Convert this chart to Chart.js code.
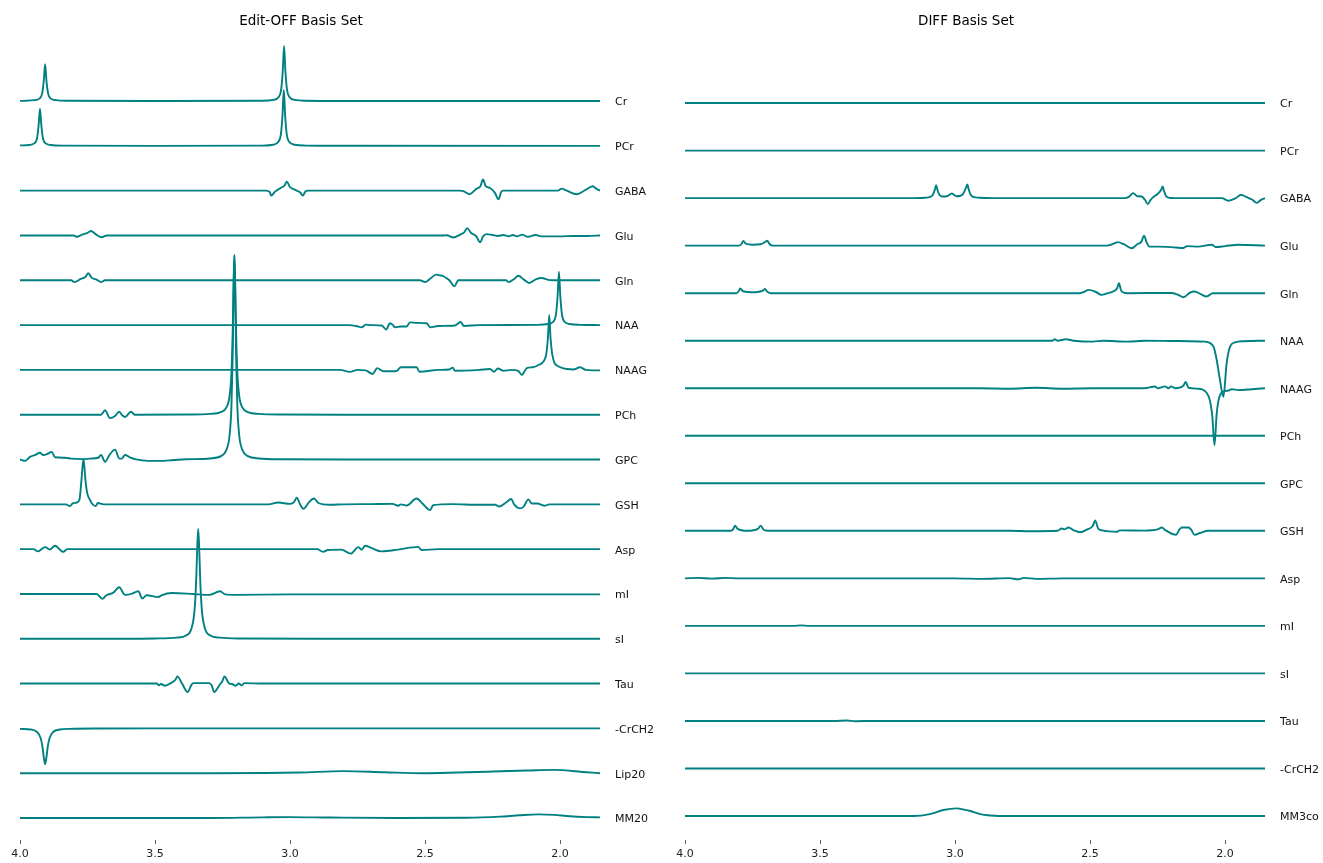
<!DOCTYPE html>
<html>
<head>
<meta charset="utf-8">
<script src="https://cdn.jsdelivr.net/npm/chart.js@4"></script>
<style>
  body { margin: 0; background: #fff; }
  canvas { position: absolute; top: 0; }
</style>
</head>
<body>
<canvas id="offChart" width="665" height="863" style="left:0px"></canvas>
<canvas id="diffChart" width="658" height="863" style="left:665px"></canvas>
<script>
// Stacked basis spectra: [ppm, amplitude]
// amplitude is in units of the stacking gap (1 = distance between two baselines)
const xTicks = [4.0, 3.5, 3.0, 2.5, 2.0];
const ppmMin = 1.852;
const ppmMax = 4.0;

const offNames = ['Cr', 'PCr', 'GABA', 'Glu', 'Gln', 'NAA', 'NAAG', 'PCh', 'GPC', 'GSH', 'Asp', 'mI', 'sI', 'Tau', '-CrCH2', 'Lip20', 'MM20'];
const diffNames = ['Cr', 'PCr', 'GABA', 'Glu', 'Gln', 'NAA', 'NAAG', 'PCh', 'GPC', 'GSH', 'Asp', 'mI', 'sI', 'Tau', '-CrCH2', 'MM3co'];

// ---- Edit-OFF ----
const offCr = [[4.0,0.003],[3.987,0.005],[3.947,0.02],[3.927,0.06],[3.918,0.17],[3.912,0.45],[3.907,0.82],[3.902,0.45],[3.896,0.17],[3.887,0.06],[3.867,0.02],[3.827,0.005],[3.5,0],[3.102,0.006],[3.062,0.025],[3.042,0.09],[3.033,0.25],[3.027,0.66],[3.022,1.23],[3.017,0.66],[3.011,0.25],[3.002,0.09],[2.982,0.025],[2.942,0.006],[2.8,0.001],[1.852,0]];
const offPCr = [[4.0,0.01],[3.966,0.02],[3.946,0.06],[3.937,0.17],[3.931,0.46],[3.926,0.83],[3.921,0.46],[3.915,0.17],[3.906,0.06],[3.886,0.02],[3.846,0.005],[3.5,0],[3.103,0.006],[3.063,0.025],[3.043,0.09],[3.034,0.25],[3.028,0.67],[3.023,1.25],[3.018,0.67],[3.012,0.25],[3.003,0.09],[2.983,0.025],[2.943,0.006],[2.8,0.001],[1.852,0]];
const offGABA = [[4.0,0],[3.09,0],[3.075,-0.03],[3.07,-0.11],[3.055,-0.02],[3.035,0.06],[3.02,0.12],[3.012,0.2],[3.0,0.08],[2.985,0.03],[2.975,0],[2.962,-0.04],[2.953,-0.11],[2.943,-0.02],[2.933,0],[2.37,0],[2.358,-0.01],[2.336,-0.08],[2.31,0.04],[2.295,0.1],[2.285,0.25],[2.275,0.1],[2.259,0.06],[2.241,-0.05],[2.228,-0.19],[2.218,-0.03],[2.212,0],[2.01,0],[1.994,0.045],[1.975,0],[1.938,-0.08],[1.907,0.01],[1.879,0.1],[1.865,0.04],[1.852,0]];
const offGlu = [[4.0,0],[3.8,0],[3.79,-0.03],[3.77,0.02],[3.75,0.06],[3.737,0.1],[3.72,0.03],[3.698,-0.04],[3.679,0],[2.43,0],[2.42,0.005],[2.395,-0.045],[2.37,0.02],[2.355,0.07],[2.344,0.165],[2.33,0.06],[2.31,-0.02],[2.296,-0.155],[2.285,-0.02],[2.272,0.03],[2.25,0.01],[2.23,-0.01],[2.21,0.01],[2.19,-0.02],[2.175,0.01],[2.16,-0.02],[2.14,0.02],[2.12,-0.03],[2.09,0.01],[2.07,-0.02],[2.0,-0.02],[1.95,-0.01],[1.9,-0.01],[1.852,0]];
const offGln = [[4.0,0],[3.81,0],[3.799,-0.04],[3.775,0.03],[3.757,0.08],[3.747,0.16],[3.735,0.06],[3.715,0.01],[3.7,-0.04],[3.685,0],[2.53,0],[2.519,0],[2.5,-0.04],[2.48,0.04],[2.459,0.127],[2.445,0.11],[2.432,0.09],[2.41,0],[2.391,-0.134],[2.38,-0.02],[2.377,0],[2.2,0],[2.19,-0.04],[2.17,0.03],[2.154,0.1],[2.135,0.02],[2.114,-0.06],[2.09,0.02],[2.068,0.05],[2.045,0.01],[2.025,0],[1.852,0]];
const offNAA = [[4.0,0],[2.78,0],[2.755,-0.02],[2.734,-0.05],[2.72,0.01],[2.7,0],[2.66,-0.01],[2.644,-0.1],[2.63,0.04],[2.62,0.01],[2.611,-0.05],[2.59,-0.03],[2.568,-0.03],[2.556,0.06],[2.53,0.05],[2.494,0.04],[2.481,-0.05],[2.45,-0.02],[2.39,-0.01],[2.368,0.07],[2.356,-0.02],[2.3,0],[2.084,0.006],[2.044,0.024],[2.024,0.08],[2.015,0.24],[2.009,0.65],[2.004,1.19],[1.999,0.65],[1.993,0.24],[1.984,0.08],[1.964,0.024],[1.924,0.006],[1.852,0]];
const offNAAG = [[4.0,0],[2.83,0],[2.815,0],[2.778,-0.045],[2.75,0],[2.72,-0.01],[2.694,-0.09],[2.677,0.04],[2.654,-0.03],[2.62,-0.03],[2.605,-0.02],[2.589,0.06],[2.55,0.06],[2.531,0.06],[2.521,-0.04],[2.45,0],[2.41,0.01],[2.397,0.05],[2.39,-0.02],[2.3,0],[2.259,0.02],[2.245,-0.04],[2.23,0.03],[2.21,-0.02],[2.18,0],[2.155,-0.02],[2.142,-0.11],[2.123,0.04],[2.1,0.06],[2.08,0.11],[2.06,0.2],[2.051,0.35],[2.045,0.7],[2.04,1.22],[2.035,0.7],[2.029,0.35],[2.02,0.15],[2.012,0.1],[1.99,0.04],[1.975,0.02],[1.95,0.01],[1.926,0.06],[1.905,0],[1.88,-0.01],[1.852,-0.01]];
const offPCh = [[4.0,0],[3.7,0],[3.685,0.1],[3.667,-0.075],[3.648,-0.03],[3.633,0.067],[3.622,-0.01],[3.611,-0.05],[3.589,0.067],[3.575,0],[3.386,0.005],[3.296,0.019],[3.256,0.06],[3.236,0.16],[3.224,0.41],[3.217,0.93],[3.2125,1.78],[3.209,2.93],[3.206,3.55],[3.203,2.93],[3.1995,1.78],[3.195,0.93],[3.188,0.41],[3.176,0.16],[3.156,0.06],[3.116,0.019],[3.026,0.005],[2.8,0],[1.852,0]];
const offGPC = [[4.0,0],[3.98,-0.03],[3.963,0.06],[3.945,0.1],[3.926,0.15],[3.915,0.1],[3.9,0.12],[3.883,0.17],[3.87,0.05],[3.833,0.04],[3.81,0.02],[3.77,0.01],[3.74,0.02],[3.71,0.04],[3.7,0.1],[3.685,-0.05],[3.669,0.1],[3.648,0.22],[3.632,0.02],[3.623,0.02],[3.611,0.1],[3.593,0.05],[3.574,0.01],[3.526,-0.03],[3.481,-0.03],[3.43,-0.01],[3.386,0.006],[3.296,0.024],[3.256,0.076],[3.236,0.21],[3.224,0.53],[3.217,1.18],[3.2125,2.285],[3.209,3.77],[3.206,4.57],[3.203,3.77],[3.1995,2.285],[3.195,1.18],[3.188,0.53],[3.176,0.21],[3.156,0.076],[3.116,0.024],[3.026,0.006],[2.8,0],[1.852,0]];
const offGSH = [[4.0,0],[3.83,0],[3.815,-0.04],[3.805,0.02],[3.79,0.04],[3.78,0.1],[3.773,0.5],[3.769,0.8],[3.765,1.0],[3.761,0.8],[3.757,0.5],[3.751,0.25],[3.74,0.09],[3.735,0.03],[3.72,-0.04],[3.712,0.03],[3.69,0],[3.08,0],[3.043,0.04],[3.0,0.01],[2.985,0.05],[2.975,0.15],[2.963,0],[2.95,-0.1],[2.94,-0.04],[2.928,0.06],[2.911,0.13],[2.895,0.03],[2.852,-0.01],[2.8,0],[2.7,0.005],[2.62,0.01],[2.599,-0.03],[2.59,0],[2.568,-0.025],[2.531,0.13],[2.51,0.02],[2.481,-0.13],[2.47,-0.02],[2.4,0.005],[2.3,-0.01],[2.24,-0.01],[2.225,-0.05],[2.2,0.04],[2.181,0.12],[2.17,0],[2.148,-0.09],[2.135,-0.05],[2.117,0.11],[2.105,0.02],[2.085,0.02],[2.056,-0.03],[2.04,0],[1.852,0]];
const offAsp = [[4.0,0],[3.95,0],[3.934,-0.05],[3.907,0.045],[3.89,-0.01],[3.87,0.075],[3.84,-0.06],[3.825,0],[2.9,0],[2.877,-0.06],[2.86,-0.02],[2.81,-0.01],[2.775,-0.1],[2.747,0.045],[2.735,-0.01],[2.722,0.075],[2.7,0.03],[2.661,-0.05],[2.6,-0.01],[2.525,0.05],[2.513,-0.02],[2.45,0],[1.852,0]];
const offMI = [[4.0,0],[3.73,0],[3.716,0],[3.695,-0.11],[3.68,-0.03],[3.654,0.03],[3.633,0.15],[3.611,-0.02],[3.587,0],[3.562,0.06],[3.547,-0.1],[3.531,-0.03],[3.488,-0.07],[3.476,-0.03],[3.438,0.02],[3.36,0],[3.3,-0.02],[3.259,0.06],[3.24,-0.01],[3.2,-0.02],[3.0,-0.01],[2.5,-0.01],[1.852,-0.01]];
const offSI = [[4.0,0],[3.6,0],[3.5,0.006],[3.42,0.025],[3.385,0.074],[3.365,0.23],[3.354,0.61],[3.348,1.225],[3.344,1.96],[3.34,2.45],[3.336,1.96],[3.332,1.225],[3.326,0.61],[3.315,0.23],[3.295,0.074],[3.26,0.025],[3.18,0.006],[2.9,0],[1.852,0]];
const offTau = [[4.0,0],[3.5,0],[3.494,0],[3.485,-0.04],[3.478,-0.01],[3.463,-0.05],[3.445,0],[3.425,0.08],[3.417,0.16],[3.4,0],[3.379,-0.19],[3.365,-0.03],[3.358,0.01],[3.3,0.01],[3.29,-0.04],[3.281,-0.19],[3.26,-0.02],[3.25,0.06],[3.243,0.16],[3.225,0],[3.215,-0.01],[3.201,-0.05],[3.19,0],[3.179,-0.04],[3.17,0.01],[3.1,0],[1.852,0]];
const offCrCH2 = [[4.0,-0.01],[3.96,-0.025],[3.937,-0.08],[3.924,-0.21],[3.917,-0.4],[3.912,-0.64],[3.907,-0.8],[3.902,-0.64],[3.897,-0.4],[3.89,-0.21],[3.877,-0.08],[3.852,-0.026],[3.817,-0.01],[3.7,-0.003],[3.5,0],[1.852,0]];
const offLip20 = [[4.0,0],[3.3,0],[3.1,0.005],[2.963,0.015],[2.802,0.045],[2.65,0.02],[2.506,0],[2.38,0.015],[2.247,0.037],[2.12,0.06],[2.025,0.075],[1.901,0.02],[1.852,0]];
const offMM20 = [[4.0,0],[3.3,0],[3.1,0.015],[3.0,0.02],[2.85,0.01],[2.6,0],[2.35,0.005],[2.222,0.03],[2.15,0.06],[2.08,0.08],[2.02,0.07],[1.975,0.045],[1.9,0.02],[1.852,0.015]];

// ---- DIFF ----
const diffCr = [[4.0,0],[1.852,0]];
const diffPCr = [[4.0,0],[1.852,0]];
const diffGABA = [[4.0,0],[3.15,0],[3.11,0.008],[3.092,0.025],[3.082,0.07],[3.0735,0.2],[3.07,0.27],[3.0665,0.2],[3.058,0.07],[3.048,0.035],[3.03,0.04],[3.018,0.08],[3.012,0.1],[3.006,0.08],[2.995,0.04],[2.98,0.05],[2.97,0.09],[2.9605,0.2],[2.954,0.29],[2.9505,0.21],[2.942,0.07],[2.932,0.025],[2.91,0.008],[2.86,0],[2.37,0],[2.358,0.02],[2.34,0.105],[2.325,0.04],[2.309,0.035],[2.296,-0.04],[2.286,-0.126],[2.275,-0.03],[2.259,0.05],[2.247,0.1],[2.236,0.18],[2.231,0.245],[2.226,0.15],[2.218,0.04],[2.21,0.01],[2.19,0],[2.012,0],[1.988,-0.055],[1.96,0],[1.941,0.07],[1.92,0.02],[1.9,-0.03],[1.883,-0.1],[1.865,-0.03],[1.852,0]];
const diffGlu = [[4.0,0],[3.8,0],[3.79,0.04],[3.784,0.1],[3.775,0.04],[3.75,0.02],[3.72,0.03],[3.7,0.09],[3.695,0.105],[3.688,0.04],[3.675,0],[2.45,0],[2.432,0.005],[2.41,0.05],[2.398,0.075],[2.375,0.03],[2.346,-0.055],[2.325,0.03],[2.31,0.08],[2.3,0.21],[2.29,0.06],[2.28,-0.02],[2.25,-0.02],[2.2,-0.03],[2.154,-0.05],[2.14,-0.01],[2.1,-0.02],[2.049,0.02],[2.035,-0.03],[2.0,-0.01],[1.95,0.02],[1.852,0]];
const diffGln = [[4.0,0],[3.81,0],[3.8,0.05],[3.796,0.1],[3.785,0.04],[3.75,0.02],[3.71,0.06],[3.704,0.09],[3.695,0.03],[3.68,0],[2.54,0],[2.525,0.02],[2.504,0.07],[2.48,0.03],[2.457,-0.035],[2.44,-0.01],[2.415,0.035],[2.4,0.1],[2.393,0.21],[2.385,0.06],[2.375,0.01],[2.36,0],[2.198,0.005],[2.175,-0.03],[2.154,-0.085],[2.13,0.01],[2.113,0.035],[2.09,-0.02],[2.068,-0.07],[2.045,0],[1.852,0]];
const diffNAA = [[4.0,0],[3.0,0],[2.64,0],[2.63,0.03],[2.62,0],[2.59,0.03],[2.56,0],[2.49,-0.02],[2.45,0],[2.36,-0.02],[2.3,0],[2.2,-0.005],[2.13,-0.01],[2.074,-0.02],[2.043,-0.12],[2.031,-0.4],[2.019,-0.82],[2.006,-1.18],[1.994,-0.47],[1.981,-0.12],[1.963,-0.035],[1.93,-0.01],[1.852,0]];
const diffNAAG = [[4.0,0],[2.9,0],[2.8,-0.01],[2.7,0.01],[2.6,-0.01],[2.5,0],[2.3,0],[2.259,0.035],[2.25,0],[2.222,0.04],[2.21,0],[2.2,0.04],[2.185,0],[2.155,0.05],[2.146,0.13],[2.135,0.01],[2.1,-0.01],[2.074,-0.06],[2.056,-0.26],[2.047,-0.6],[2.039,-1.2],[2.031,-0.54],[2.019,-0.15],[2.0,-0.06],[1.988,-0.05],[1.975,-0.02],[1.95,-0.04],[1.9,-0.02],[1.852,0]];
const diffPCh = [[4.0,0],[1.852,0]];
const diffGPC = [[4.0,0],[1.852,0]];
const diffGSH = [[4.0,0],[3.83,0],[3.822,0.03],[3.815,0.11],[3.805,0.04],[3.77,0],[3.73,0.04],[3.719,0.11],[3.71,0.03],[3.695,0],[2.8,0],[2.72,-0.01],[2.62,0],[2.605,0.05],[2.595,0.03],[2.58,0.07],[2.56,0.01],[2.537,-0.03],[2.51,0.03],[2.49,0.1],[2.481,0.22],[2.47,0.05],[2.455,0.01],[2.4,-0.02],[2.39,0.01],[2.3,0.005],[2.25,0.03],[2.234,0.07],[2.22,0.01],[2.181,-0.085],[2.17,0.02],[2.16,0.07],[2.135,0.07],[2.125,0.02],[2.113,-0.085],[2.09,-0.04],[2.062,0],[1.852,0]];
const diffAsp = [[4.0,0],[3.95,0.01],[3.9,-0.005],[3.85,0.01],[3.8,0],[3.0,0],[2.9,-0.01],[2.8,0.005],[2.765,-0.02],[2.745,0.01],[2.7,-0.01],[2.6,0],[1.852,0]];
const diffMI = [[4.0,0],[3.6,0],[3.57,0.01],[3.54,0],[1.852,0]];
const diffSI = [[4.0,0],[1.852,0]];
const diffTau = [[4.0,0],[3.45,0],[3.4,0.01],[3.37,-0.005],[3.3,0],[1.852,0]];
const diffCrCH2 = [[4.0,0],[1.852,0]];
const diffMM3co = [[4.0,0],[3.154,0],[3.093,0.04],[3.043,0.126],[2.994,0.16],[2.963,0.13],[2.944,0.105],[2.907,0.04],[2.87,0.01],[2.84,0],[1.852,0]];

const offSeries = [offCr, offPCr, offGABA, offGlu, offGln, offNAA, offNAAG, offPCh, offGPC, offGSH, offAsp, offMI, offSI, offTau, offCrCH2, offLip20, offMM20];
const diffSeries = [diffCr, diffPCr, diffGABA, diffGlu, diffGln, diffNAA, diffNAAG, diffPCh, diffGPC, diffGSH, diffAsp, diffMI, diffSI, diffTau, diffCrCH2, diffMM3co];

const lineColor = '#008080';
Chart.defaults.font.family = 'DejaVu Sans, sans-serif';
Chart.defaults.color = '#000';

// title drawn over the plot, slightly left of centre like the original
const titlePlugin = {
    id: 'panelTitle',
    afterDraw(chart, args, opts) {
        const ctx = chart.ctx;
        const area = chart.chartArea;
        ctx.save();
        ctx.font = '13.5px DejaVu Sans, sans-serif';
        ctx.fillStyle = '#000';
        ctx.textAlign = 'center';
        ctx.textBaseline = 'middle';
        ctx.fillText(opts.text, (area.left + area.right) / 2 - 9, 21);
        ctx.restore();
    }
};

function makePanel(id, title, names, series, yMin, yMax, labelWidth) {
    const n = names.length;
    const datasets = series.map(function(pts, i) {
        const offset = n - 1 - i;
        return {
            label: names[i],
            data: pts.map(p => ({ x: p[0], y: p[1] + offset })),
            borderColor: lineColor,
            borderWidth: 1.9,
            pointRadius: 0,
            fill: false,
            cubicInterpolationMode: 'monotone'
        };
    });

    new Chart(document.getElementById(id), {
        type: 'line',
        data: { datasets: datasets },
        options: {
            responsive: false,
            animation: false,
            layout: { padding: { top: 35, left: 20, right: 0, bottom: 0 } },
            plugins: {
                legend: { display: false },
                tooltip: { enabled: false },
                panelTitle: { text: title }
            },
            scales: {
                x: {
                    type: 'linear',
                    reverse: true,
                    min: ppmMin,
                    max: ppmMax,
                    afterBuildTicks: function(scale) {
                        scale.ticks = xTicks.map(v => ({ value: v }));
                    },
                    afterFit: function(scale) { scale.height = 23; },
                    ticks: {
                        autoSkip: false,
                        maxRotation: 0,
                        padding: 4,
                        font: { size: 11 },
                        color: '#222',
                        callback: v => v.toFixed(1)
                    },
                    grid: {
                        display: true,
                        drawOnChartArea: false,
                        drawTicks: true,
                        tickLength: 4,
                        color: '#333',
                        lineWidth: 0.8
                    },
                    border: { display: false }
                },
                y: {
                    type: 'linear',
                    position: 'right',
                    min: yMin,
                    max: yMax,
                    afterBuildTicks: function(scale) {
                        scale.ticks = names.map((nm, i) => ({ value: n - 1 - i }));
                    },
                    afterFit: function(scale) { scale.width = labelWidth; },
                    ticks: {
                        autoSkip: false,
                        padding: 15,
                        labelOffset: 1.5,
                        font: { size: 11 },
                        color: '#111',
                        callback: v => names[n - 1 - Math.round(v)]
                    },
                    grid: { display: false, drawTicks: false },
                    border: { display: false }
                }
            }
        },
        plugins: [titlePlugin]
    });
}

makePanel('offChart', 'Edit-OFF Basis Set', offNames, offSeries, -0.491, 17.474, 65);
makePanel('diffChart', 'DIFF Basis Set', diffNames, diffSeries, -0.505, 16.432, 58);
</script>
</body>
</html>
